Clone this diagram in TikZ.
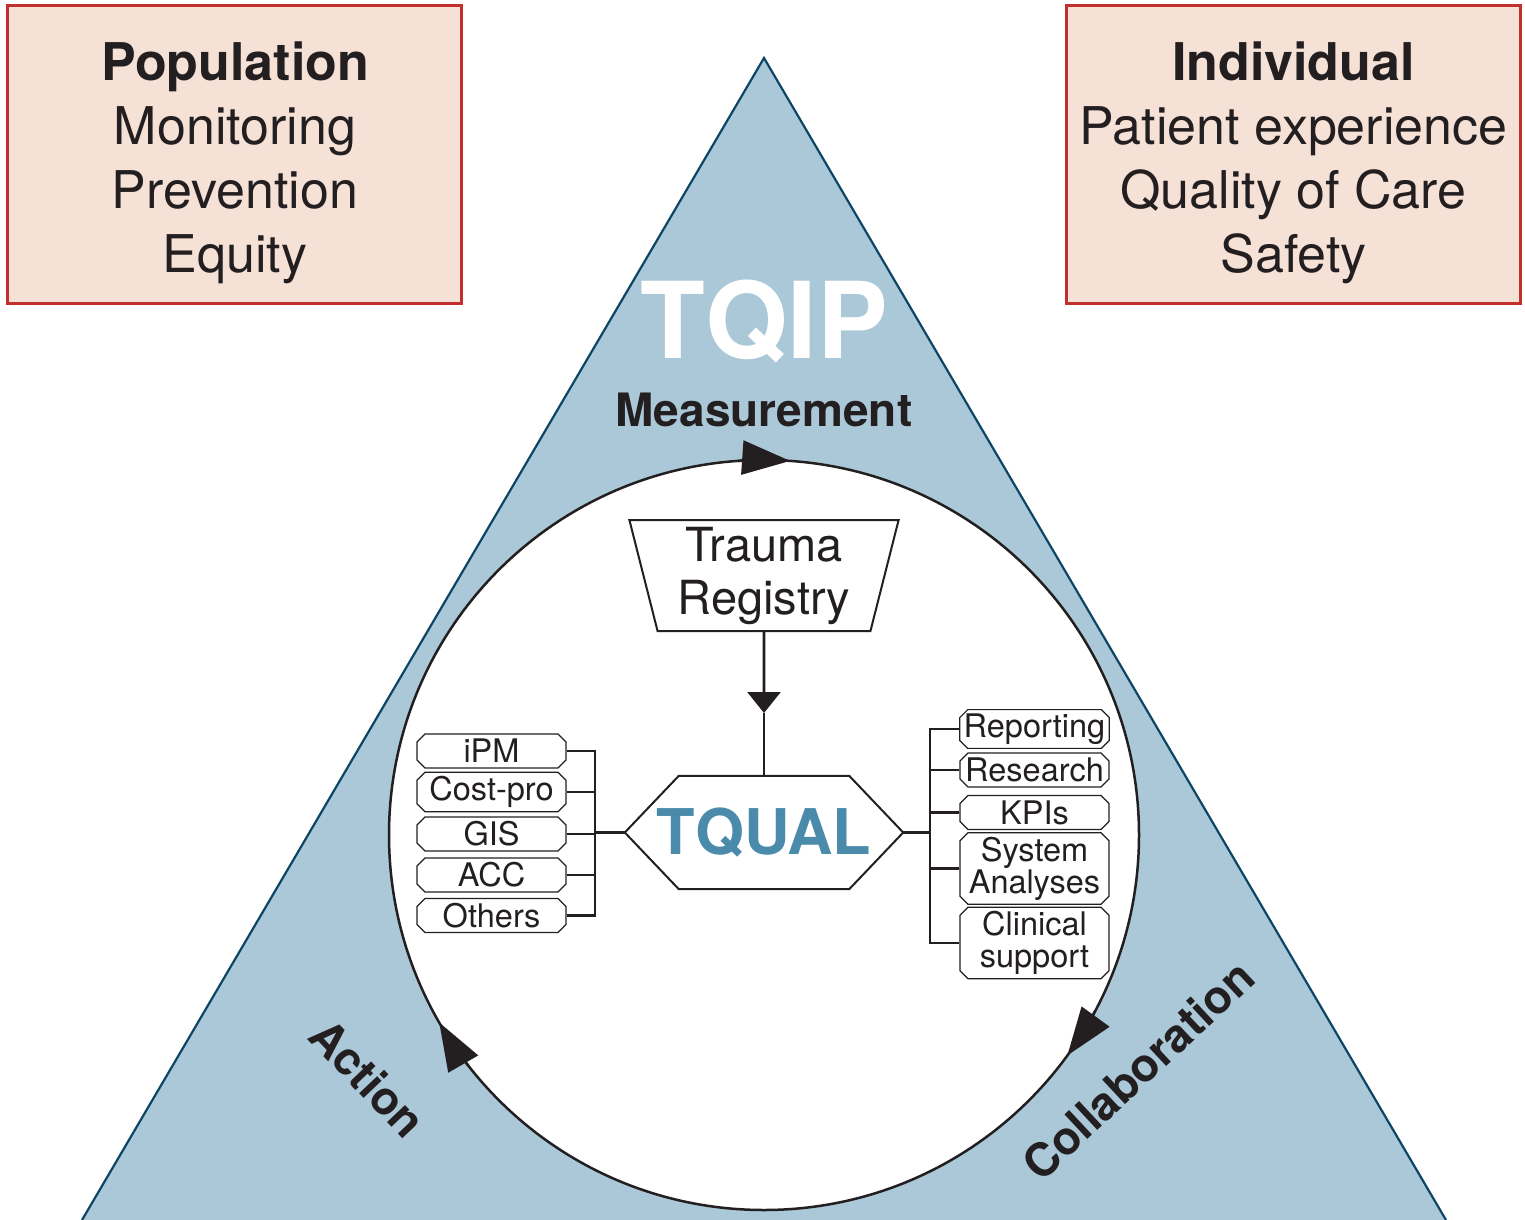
\documentclass[tikz,border=0pt]{standalone}
\usepackage{fontspec}
\setmainfont{TeX Gyre Heros}
\usetikzlibrary{arrows.meta,shapes.geometric,shapes.misc,calc}
\definecolor{tribg}{HTML}{ABC8D9}
\definecolor{triline}{HTML}{0D4565}
\definecolor{boxfill}{HTML}{F6E1D7}
\definecolor{boxline}{HTML}{C1302C}
\definecolor{tqualc}{HTML}{4A8BAB}
\definecolor{ink}{HTML}{231F20}
\begin{document}
\begin{tikzpicture}[x=1pt,y=1pt,
  catbox/.style={draw=boxline, fill=boxfill, line width=3pt, minimum width=454pt, minimum height=298pt, inner sep=0pt},
  cattext/.style={align=center, inner sep=0pt, text=ink, font=\fontsize{52}{63.8}\selectfont},
  itembox/.style={chamfered rectangle, chamfered rectangle xsep=4pt, chamfered rectangle ysep=4pt, draw=ink, line width=1.2pt, fill=white, minimum width=149pt, minimum height=34pt, inner sep=0pt, align=center, text=ink, font=\fontsize{32.5}{32}\selectfont},
  conn/.style={draw=ink, line width=2.6pt},
  looplabel/.style={font=\fontsize{46}{50}\selectfont\bfseries, text=ink, inner sep=0pt},
  looparrow/.style={draw=ink, line width=2.5pt, -{Triangle[length=48pt,width=34pt]}},
]
\path[use as bounding box] (0,0) rectangle (1525,-1220);

% background triangle
\fill[tribg] (764,-58) -- (82,-1220) -- (1446,-1220) -- cycle;
\draw[triline, line width=2.2pt, line join=miter] (82,-1220) -- (764,-58) -- (1446,-1220);

% circle
\node[circle, draw=ink, fill=white, line width=2.5pt, minimum size=750pt, inner sep=0pt] (loop) at (764,-835) {};

% cycle arrowheads
\draw[looparrow] ($(loop.center)+(94:375pt)$) arc[start angle=94, end angle=86, radius=375pt];
\draw[looparrow] ($(loop.center)+(-28:375pt)$) arc[start angle=-28, end angle=-36, radius=375pt];
\draw[looparrow] ($(loop.center)+(218:375pt)$) arc[start angle=218, end angle=210, radius=375pt];

% titles
\node[font=\fontsize{106}{110}\selectfont\bfseries, text=white, anchor=base, inner sep=0pt] (tqip) at (764,-358) {TQIP};
\node[font=\fontsize{46}{50}\selectfont\bfseries, text=ink, anchor=base, inner sep=0pt] (meas) at (764,-426) {Measurement};
\node[looplabel, rotate=-46.5] (act) at (368,-1078) {Action};
\node[looplabel, rotate=43] (col) at (1138,-1070) {Collaboration};

% corner boxes
\node[catbox] (popbox) at (234.5,-154.5) {};
\node[cattext] (poptext) at (235,-162.7) {\textbf{Population}\\Monitoring\\Prevention\\Equity};
\node[catbox] (indbox) at (1293.5,-154.5) {};
\node[cattext] (indtext) at (1293.5,-162.7) {\textbf{Individual}\\Patient experience\\Quality of Care\\Safety};

% registry and TQUAL
\node[trapezium, shape border rotate=180, trapezium left angle=76.8, trapezium right angle=76.8, trapezium stretches=true, minimum width=270pt, minimum height=111pt, draw=ink, line width=2pt, fill=white, align=center, font=\fontsize{47}{53}\selectfont, text=ink, inner sep=0pt] (reg) at (764,-575.5) {Trauma\\Registry};
\node[font=\fontsize{63}{63}\selectfont\bfseries, text=tqualc, minimum width=278pt, minimum height=113pt, inner sep=0pt] (tqual) at (764,-832.5) {TQUAL};
\draw[ink, line width=2pt, line join=miter] (tqual.west) -- ($(tqual.north west)+(54,0)$) -- ($(tqual.north east)+(-54,0)$) -- (tqual.east) -- ($(tqual.south east)+(-54,0)$) -- ($(tqual.south west)+(54,0)$) -- cycle;

\coordinate (regtip) at (764,-713);
\draw[conn, -{Triangle[length=21pt,width=33pt]}] (reg.south) -- (regtip);
\draw[conn] (regtip) -- (tqual.north);

% left items
\node[itembox] (ipm) at (491.5,-751) {iPM};
\node[itembox] (cost) at (491.5,-792) {Cost-pro};
\node[itembox] (gis) at (491.5,-834) {GIS};
\node[itembox] (acc) at (491.5,-875) {ACC};
\node[itembox] (oth) at (491.5,-915.5) {Others};
\coordinate (lbus) at (595,-832.5);
\foreach \n in {ipm,cost,gis,acc,oth} \draw[conn] (\n.east) -| (lbus);
\draw[conn] (lbus) -- (tqual.west);

% right items
\node[itembox] (rep) at (1034.5,-729) {Reporting};
\node[itembox] (res) at (1034.5,-770) {Research};
\node[itembox] (kpi) at (1034.5,-812.5) {KPIs};
\node[itembox, minimum height=67pt] (sys) at (1034.5,-868.5) {System\\Analyses};
\node[itembox, minimum height=68pt] (clin) at (1034.5,-943) {Clinical\\support};
\coordinate (rbus) at (930,-832.5);
\foreach \n in {rep,res,kpi,sys,clin} \draw[conn] (\n.west) -| (rbus);
\draw[conn] (rbus) -- (tqual.east);
\end{tikzpicture}
\end{document}
